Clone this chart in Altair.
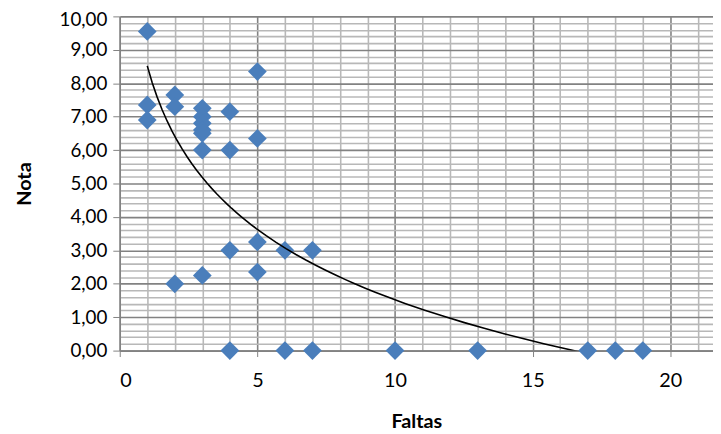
import altair as alt
import pandas as pd

faltas = [1, 1, 1, 2, 2, 2, 3, 3, 3, 3, 3, 3, 3, 4, 4, 4, 4, 5, 5, 5, 5, 6, 6, 7, 7, 10, 13, 17, 18, 19]
notas = [9.55, 7.35, 6.9, 7.65, 7.3, 2.0, 7.25, 7.0, 6.8, 6.6, 6.5, 6.0, 2.25,
         7.15, 6.0, 3.0, 0.0, 8.35, 6.35, 3.25, 2.35, 3.0, 0.0, 3.0, 0.0, 0.0, 0.0, 0.0, 0.0, 0.0]

x_ticks = list(range(0, 22))
y_ticks = [round(i * 0.2, 1) for i in range(51)]

df = pd.DataFrame({"Faltas": faltas, "Nota": notas})

FONT = "Lato"
MAJ_Y = "abs(datum.value - round(datum.value)) < 0.001"

xscale = alt.Scale(domain=[0, 21.55], nice=False, zero=False)
yscale = alt.Scale(domain=[0, 10], nice=False)

xaxis = alt.Axis(
    title="Faltas",
    values=x_ticks,
    tickCount=len(x_ticks),
    labelExpr="datum.value % 5 === 0 ? datum.value : ''",
    labelOverlap=False,
    grid=True,
    gridColor={"condition": {"test": "datum.value % 5 === 0", "value": "#828282"}, "value": "#b8b8b8"},
    gridWidth=1.6,
    tickColor="#828282",
    tickOpacity={"condition": {"test": "datum.value % 5 === 0", "value": 1}, "value": 0},
    tickSize=6,
    domainColor="#828282",
    domainWidth=1.5,
    labelFont=FONT,
    labelFontSize=20,
    labelColor="#000000",
    labelPadding=14,
    titleFont=FONT,
    titleFontSize=20,
    titleFontWeight="bold",
    titleColor="#000000",
    titlePadding=22,
)

yaxis = alt.Axis(
    title="Nota",
    values=y_ticks,
    tickCount=len(y_ticks),
    labelExpr="%s ? replace(format(datum.value, '.2f'), '.', ',') : ''" % MAJ_Y,
    labelOverlap=False,
    labelOffset={"condition": {"test": "datum.value >= 10", "value": 3}, "value": 0},
    grid=True,
    gridColor={"condition": {"test": MAJ_Y, "value": "#828282"}, "value": "#b8b8b8"},
    gridWidth=1.6,
    tickColor="#828282",
    tickOpacity={"condition": {"test": MAJ_Y, "value": 1}, "value": 0},
    tickSize=7,
    domainColor="#828282",
    domainWidth=1.5,
    labelFont=FONT,
    labelFontSize=19,
    labelColor="#000000",
    labelPadding=6,
    titleFont=FONT,
    titleFontSize=20,
    titleFontWeight="bold",
    titleColor="#000000",
    titlePadding=25,
)

points = alt.Chart(df).mark_point(
    shape="diamond", filled=True, size=360, color="#4a7ebb", opacity=1
).encode(
    x=alt.X("Faltas:Q", scale=xscale, axis=xaxis),
    y=alt.Y("Nota:Q", scale=yscale, axis=yaxis),
)

trend = alt.Chart(df).transform_regression(
    "Faltas", "Nota", method="log"
).mark_line(color="#000000", strokeWidth=1.6, clip=True).encode(
    x=alt.X("Faltas:Q", scale=xscale),
    y=alt.Y("Nota:Q", scale=yscale),
)

chart = alt.layer(points, trend).properties(
    width=600,
    height=338,
    autosize=alt.AutoSizeParams(type="none"),
    padding={"left": 113, "top": 6, "right": 0, "bottom": 95},
    background="#ffffff",
).configure_view(stroke=None)

chart.save("out.html", embed_options={"renderer": "svg", "actions": False})
